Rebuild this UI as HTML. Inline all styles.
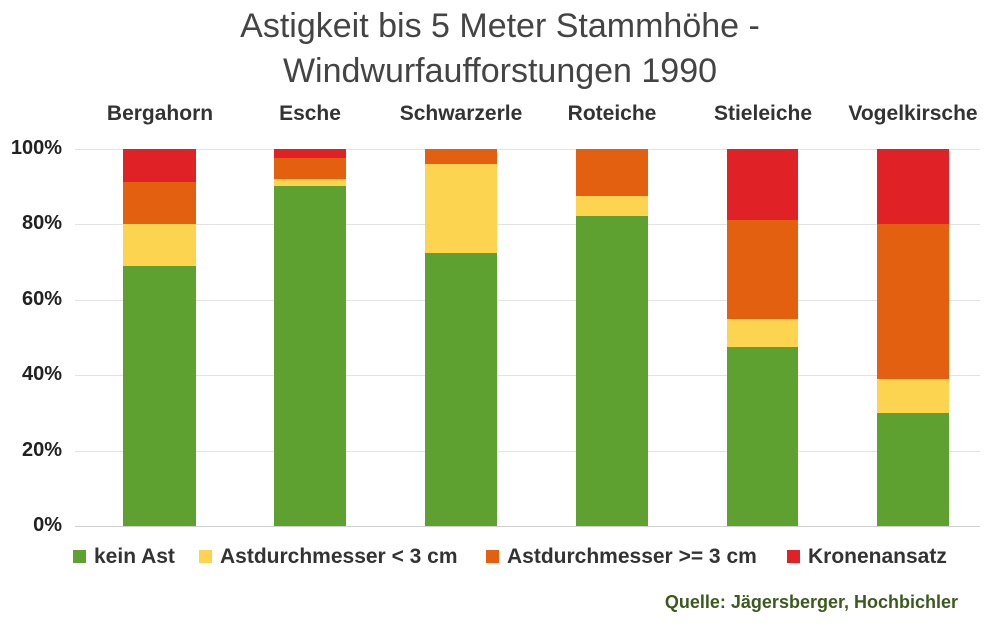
<!DOCTYPE html>
<html><head><meta charset="utf-8"><style>
body{margin:0;width:1000px;height:626px;background:#fff;font-family:"Liberation Sans","DejaVu Sans",sans-serif;position:relative;overflow:hidden}
.a{position:absolute}
.t{position:absolute;left:0;width:1000px;text-align:center;font-size:34px;color:#444}
.g{position:absolute;left:75px;width:905px;height:1px;background:#e3e3e3}
.yl{position:absolute;left:0;width:62px;text-align:right;font-size:20px;font-weight:bold;color:#222}
.cl{position:absolute;width:160px;text-align:center;font-size:21px;font-weight:bold;color:#333;top:102px}
.b{position:absolute}
.lg{position:absolute;top:545px;font-size:21px;font-weight:bold;color:#333}
.sq{display:inline-block;width:13px;height:13px;margin-right:8px;vertical-align:0px}
</style></head><body>
<div class="t" style="top:7px">Astigkeit bis 5 Meter Stammhöhe -</div>
<div class="t" style="top:52px">Windwurfaufforstungen 1990</div>
<div class="g" style="top:149px"></div><div class="g" style="top:224px"></div><div class="g" style="top:300px"></div><div class="g" style="top:375px"></div><div class="g" style="top:451px"></div><div class="g" style="top:526px;background:#d0d0d0"></div>
<div class="yl" style="top:137px">100%</div><div class="yl" style="top:212px">80%</div><div class="yl" style="top:288px">60%</div><div class="yl" style="top:363px">40%</div><div class="yl" style="top:439px">20%</div><div class="yl" style="top:514px">0%</div>
<div class="cl" style="left:80px">Bergahorn</div><div class="cl" style="left:230px">Esche</div><div class="cl" style="left:381px">Schwarzerle</div><div class="cl" style="left:532px">Roteiche</div><div class="cl" style="left:683px">Stieleiche</div><div class="cl" style="left:833px">Vogelkirsche</div>
<div class="b" style="left:123px;width:73px;top:149px;height:33px;background:#e02126"></div>
<div class="b" style="left:123px;width:73px;top:182px;height:42px;background:#e2600f"></div>
<div class="b" style="left:123px;width:73px;top:224px;height:42px;background:#fdd44f"></div>
<div class="b" style="left:123px;width:73px;top:266px;height:260px;background:#5ea130"></div>
<div class="b" style="left:274px;width:72px;top:149px;height:9px;background:#e02126"></div>
<div class="b" style="left:274px;width:72px;top:158px;height:21px;background:#e2600f"></div>
<div class="b" style="left:274px;width:72px;top:179px;height:7px;background:#fdd44f"></div>
<div class="b" style="left:274px;width:72px;top:186px;height:340px;background:#5ea130"></div>
<div class="b" style="left:425px;width:72px;top:149px;height:15px;background:#e2600f"></div>
<div class="b" style="left:425px;width:72px;top:164px;height:89px;background:#fdd44f"></div>
<div class="b" style="left:425px;width:72px;top:253px;height:273px;background:#5ea130"></div>
<div class="b" style="left:576px;width:72px;top:149px;height:47px;background:#e2600f"></div>
<div class="b" style="left:576px;width:72px;top:196px;height:20px;background:#fdd44f"></div>
<div class="b" style="left:576px;width:72px;top:216px;height:310px;background:#5ea130"></div>
<div class="b" style="left:727px;width:71px;top:149px;height:71px;background:#e02126"></div>
<div class="b" style="left:727px;width:71px;top:220px;height:99px;background:#e2600f"></div>
<div class="b" style="left:727px;width:71px;top:319px;height:28px;background:#fdd44f"></div>
<div class="b" style="left:727px;width:71px;top:347px;height:179px;background:#5ea130"></div>
<div class="b" style="left:877px;width:72px;top:149px;height:75px;background:#e02126"></div>
<div class="b" style="left:877px;width:72px;top:224px;height:155px;background:#e2600f"></div>
<div class="b" style="left:877px;width:72px;top:379px;height:34px;background:#fdd44f"></div>
<div class="b" style="left:877px;width:72px;top:413px;height:113px;background:#5ea130"></div>
<div class="lg" style="left:73px"><span class="sq" style="background:#5ea130"></span>kein Ast</div>
<div class="lg" style="left:199px"><span class="sq" style="background:#fdd44f"></span>Astdurchmesser &lt; 3 cm</div>
<div class="lg" style="left:486px"><span class="sq" style="background:#e2600f"></span>Astdurchmesser &gt;= 3 cm</div>
<div class="lg" style="left:787px"><span class="sq" style="background:#e02126"></span>Kronenansatz</div>
<div class="a" style="right:42px;top:592px;font-size:18px;font-weight:bold;color:#3b5a1e">Quelle: Jägersberger, Hochbichler</div>
</body></html>
